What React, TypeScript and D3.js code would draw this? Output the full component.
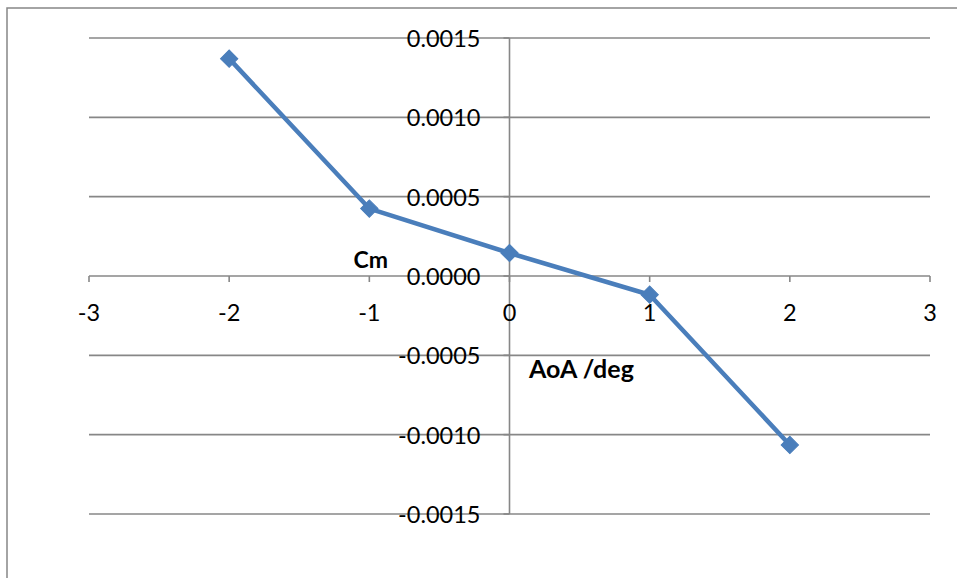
import * as d3 from "d3";

// AoA (deg) vs Cm
const aoa = [-2, -1, 0, 1, 2];
const cm = [0.00137, 0.000425, 0.000145, -0.000118, -0.001065];
const xTicks = [-3, -2, -1, 0, 1, 2, 3];
const yTicks = [0.0015, 0.001, 0.0005, 0, -0.0005, -0.001, -0.0015];

const W = 957;
const H = 578;
const PLOT = { left: 89, right: 930, top: 38, bottom: 514 };
const FONT = "Lato, 'Open Sans', sans-serif";
const BLUE = "#4A7EBB";
const GRID = "#878787";

export default function App() {
  const xScale = d3.scaleLinear().domain([-3, 3]).range([PLOT.left, PLOT.right]);
  const yScale = d3.scaleLinear().domain([-0.0015, 0.0015]).range([PLOT.bottom, PLOT.top]);

  const pts = aoa.map((a, i) => [a, cm[i]] as [number, number]);
  const line = d3
    .line<[number, number]>()
    .x((d) => xScale(d[0]))
    .y((d) => yScale(d[1]));
  const diamond = d3.symbol().type(d3.symbolSquare).size(150)();

  const x0 = xScale(0);
  const y0 = yScale(0);

  return (
    <svg
      width={W}
      height={H}
      style={{ position: "absolute", left: 0, top: 0, background: "#fff" }}
    >
      {/* chart border, cut off at right/bottom */}
      <rect x={7} y={8} width={W + 10} height={H + 10} fill="none" stroke={GRID} strokeWidth={1.5} />

      {/* gridlines */}
      {yTicks.map((t) => (
        <line
          key={"g" + t}
          x1={PLOT.left}
          x2={PLOT.right}
          y1={yScale(t)}
          y2={yScale(t)}
          stroke={GRID}
          strokeWidth={1.6}
        />
      ))}

      {/* vertical axis at x = 0 */}
      <line x1={x0} x2={x0} y1={PLOT.top} y2={PLOT.bottom} stroke={GRID} strokeWidth={1.6} />
      {yTicks.map((t) => (
        <line key={"yt" + t} x1={x0 - 6} x2={x0} y1={yScale(t)} y2={yScale(t)} stroke={GRID} strokeWidth={1.6} />
      ))}
      {xTicks.map((t) => (
        <line key={"xt" + t} x1={xScale(t)} x2={xScale(t)} y1={y0} y2={y0 + 6} stroke={GRID} strokeWidth={1.6} />
      ))}

      {/* tick labels */}
      {yTicks.map((t) => (
        <text
          key={"yl" + t}
          x={x0 - 29}
          y={yScale(t)}
          textAnchor="end"
          dominantBaseline="central"
          fontFamily={FONT}
          fontSize={23.5}
          fill="#000"
        >
          {d3.format(".4f")(t).replace("−", "-")}
        </text>
      ))}
      {xTicks.map((t) => (
        <text
          key={"xl" + t}
          x={xScale(t)}
          y={y0 + 36}
          textAnchor="middle"
          dominantBaseline="central"
          fontFamily={FONT}
          fontSize={23.5}
          fill="#000"
        >
          {String(t)}
        </text>
      ))}

      {/* axis titles */}
      <text x={388} y={268} textAnchor="end" fontFamily={FONT} fontSize={23} fontWeight="bold" fill="#000">
        Cm
      </text>
      <text x={529} y={378} fontFamily={FONT} fontSize={25} fontWeight="bold" fill="#000">
        AoA /deg
      </text>

      {/* series */}
      <path d={line(pts) || ""} fill="none" stroke={BLUE} strokeWidth={4.5} strokeLinejoin="round" />
      {pts.map((d, i) => (
        <path
          key={"m" + i}
          d={diamond || ""}
          transform={`translate(${xScale(d[0])},${yScale(d[1])}) rotate(45)`}
          fill={BLUE}
          stroke={BLUE}
          strokeWidth={1}
        />
      ))}
    </svg>
  );
}
